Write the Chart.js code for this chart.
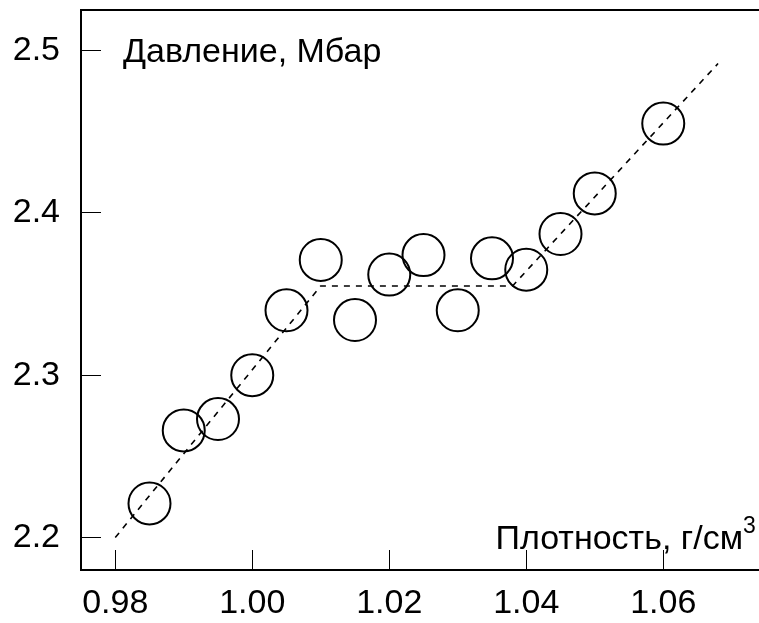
<!DOCTYPE html>
<html>
<head>
<meta charset="utf-8">
<script src="https://cdn.jsdelivr.net/npm/chart.js@4.4.1/dist/chart.umd.min.js"></script>
<style>
html, body { margin: 0; padding: 0; background: #fff; overflow: hidden; }
#wrap { position: absolute; left: 0; top: 0; width: 800px; height: 623px; }
</style>
</head>
<body>
<div id="wrap"><canvas id="chart" width="800" height="623"></canvas></div>
<script>
const density = [0.985, 0.99, 0.995, 1.00, 1.005, 1.01, 1.015, 1.02, 1.025, 1.03, 1.035, 1.04, 1.045, 1.05, 1.06];
const pressure = [2.221, 2.266, 2.273, 2.300, 2.340, 2.371, 2.334, 2.362, 2.374, 2.340, 2.372, 2.365, 2.387, 2.412, 2.455];
const fitDensity = [0.98, 1.01, 1.038, 1.068];
const fitPressure = [2.2, 2.355, 2.355, 2.492];
const xTicks = [0.98, 1.00, 1.02, 1.04, 1.06];
const yTicks = [2.2, 2.3, 2.4, 2.5];
const yTitle = "Давление, Мбар";
const xTitle = "Плотность, г/см";
const xTitleSup = "3";

const FONT = '"Liberation Sans", Arial, Helvetica, sans-serif';
Chart.defaults.font.family = FONT;
Chart.defaults.font.size = 34;
Chart.defaults.color = "#000";

// box round the plot area
const frame = {
    id: "frame",
    beforeDatasetsDraw(chart) {
        const { ctx, chartArea: a } = chart;
        ctx.save();
        ctx.strokeStyle = "#000";
        ctx.lineWidth = 2;
        ctx.strokeRect(a.left, a.top, a.right - a.left, a.bottom - a.top);
        ctx.restore();
    }
};

// axis titles sit inside the frame
const titles = {
    id: "titles",
    afterDraw(chart) {
        const ctx = chart.ctx;
        ctx.save();
        ctx.fillStyle = "#000";
        ctx.textBaseline = "alphabetic";
        ctx.font = "34px " + FONT;
        ctx.textAlign = "left";
        ctx.fillText(yTitle, 123, 62);
        ctx.textAlign = "right";
        ctx.fillText(xTitle, 743, 549);
        ctx.font = "23px " + FONT;
        ctx.textAlign = "left";
        ctx.fillText(xTitleSup, 743, 533);
        ctx.restore();
    }
};

const tickGrid = { drawOnChartArea: false, drawTicks: true, tickLength: -20, tickColor: "#000", tickWidth: 1 };

// fixed axis sizes, no extra room for edge labels
function fixSize(s) {
    if (s.isHorizontal()) s.height = 53; else s.width = 81;
    s.paddingTop = s.paddingBottom = s.paddingLeft = s.paddingRight = 0;
}

new Chart(document.getElementById("chart"), {
    type: "scatter",
    data: {
        datasets: [
            {
                type: "line",
                label: "fit",
                data: fitDensity.map((x, i) => ({ x, y: fitPressure[i] })),
                borderColor: "#000",
                borderWidth: 1.6,
                borderDash: [6, 6],
                pointRadius: 0,
                fill: false,
                tension: 0,
                order: 2
            },
            {
                label: "data",
                data: density.map((x, i) => ({ x, y: pressure[i] })),
                pointRadius: 21,
                pointHoverRadius: 21,
                pointBorderWidth: 2,
                pointBorderColor: "#000",
                pointBackgroundColor: "rgba(0,0,0,0)",
                order: 1
            }
        ]
    },
    options: {
        responsive: false,
        animation: false,
        layout: { autoPadding: false, padding: { top: 10, right: 34, left: 0, bottom: 0 } },
        plugins: { legend: { display: false }, tooltip: { enabled: false } },
        scales: {
            x: {
                type: "linear",
                min: 0.975,
                max: 1.075,
                afterBuildTicks: s => { s.ticks = xTicks.map(v => ({ value: v })); },
                afterFit: fixSize,
                ticks: { padding: 33, maxRotation: 0, autoSkip: false, callback: v => v.toFixed(2) },
                grid: tickGrid,
                border: { display: false }
            },
            y: {
                type: "linear",
                min: 2.18,
                max: 2.525,
                afterBuildTicks: s => { s.ticks = yTicks.map(v => ({ value: v })); },
                afterFit: fixSize,
                ticks: { padding: 41, autoSkip: false, callback: v => v.toFixed(1) },
                grid: tickGrid,
                border: { display: false }
            }
        }
    },
    plugins: [frame, titles]
});
</script>
</body>
</html>
